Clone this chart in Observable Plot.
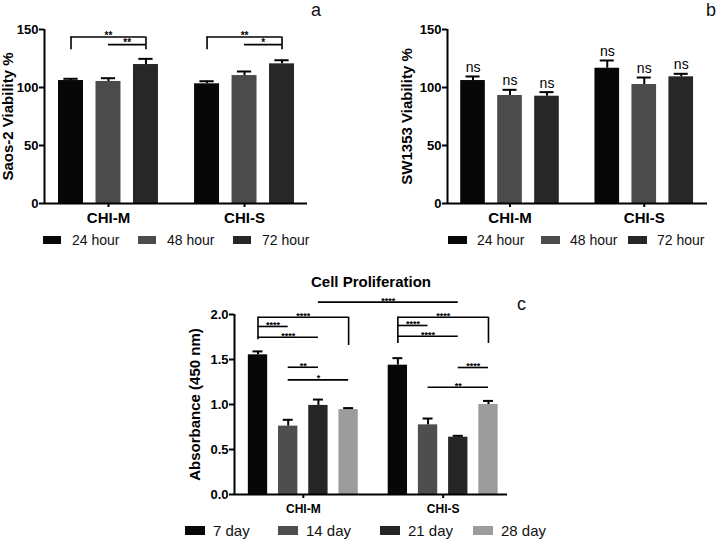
<!DOCTYPE html>
<html><head><meta charset="utf-8">
<script src="https://cdn.jsdelivr.net/npm/d3@7"></script>
<script src="https://cdn.jsdelivr.net/npm/@observablehq/plot@0.6"></script>
<style>
body{margin:0;background:#fff;}
#root{position:relative;width:718px;height:540px;font-family:"Liberation Sans",Arial,sans-serif;overflow:hidden;background:#fff;}
.panel{position:absolute;}
.plabel{position:absolute;font-size:18px;line-height:18px;color:#111;}
.legitem{position:absolute;display:flex;align-items:center;white-space:nowrap;color:#111;}
.sw{display:inline-block;}
</style></head><body><div id="root"></div>
<script>
// ---------- data ----------
const groups = ["CHI-M", "CHI-S"];
const hours = ["24 hour", "48 hour", "72 hour"];
const days = ["7 day", "14 day", "21 day", "28 day"];

// Panel a: Saos-2 viability (%), order: CHI-M 24/48/72, CHI-S 24/48/72
const saosMean = [106, 105.2, 119.8, 103.2, 110.3, 120.4];
const saosSem  = [1.5, 2.8, 4.9, 2.2, 3.5, 3.1];
// Panel b: SW1353 viability (%)
const swMean = [106, 93.1, 92.5, 116.6, 102.6, 109.2];
const swSem  = [3.5, 4.9, 3.5, 6.7, 6.0, 2.6];
const swSig  = ["ns", "ns", "ns", "ns", "ns", "ns"];
// Panel c: absorbance (450 nm), order: CHI-M 7/14/21/28, CHI-S 7/14/21/28
const absMean = [1.552, 0.76, 0.99, 0.944, 1.437, 0.774, 0.637, 1.0];
const absSem  = [0.038, 0.07, 0.065, 0.016, 0.078, 0.07, 0.015, 0.04];

const viabTicks = [0, 50, 100, 150];
const absTicks = [0, 0.5, 1.0, 1.5, 2.0];

// significance lines: [group1, series1, group2, series2, level, label]
const saosSigLines = [
  ["CHI-M", "24 hour", "CHI-M", "72 hour", 143.5, "**"],
  ["CHI-M", "48 hour", "CHI-M", "72 hour", 137, "**"],
  ["CHI-S", "24 hour", "CHI-S", "72 hour", 143.5, "**"],
  ["CHI-S", "48 hour", "CHI-S", "72 hour", 137, "*"]
];
// bracket legs: [group, series, bottom, top]
const saosSigDrops = [
  ["CHI-M", "24 hour", 132.5, 143.5], ["CHI-M", "72 hour", 132.5, 143.5],
  ["CHI-S", "24 hour", 132.5, 143.5], ["CHI-S", "72 hour", 132.5, 143.5]
];
const absSigLines = [
  ["CHI-M", "21 day", "CHI-S", "21 day", 2.137, "****"],
  ["CHI-M", "7 day", "CHI-M", "28 day", 1.97, "****"],
  ["CHI-M", "7 day", "CHI-M", "14 day", 1.867, "****"],
  ["CHI-M", "7 day", "CHI-M", "21 day", 1.748, "****"],
  ["CHI-M", "14 day", "CHI-M", "21 day", 1.414, "**"],
  ["CHI-M", "14 day", "CHI-M", "28 day", 1.274, "*"],
  ["CHI-S", "7 day", "CHI-S", "28 day", 1.97, "****"],
  ["CHI-S", "7 day", "CHI-S", "14 day", 1.878, "****"],
  ["CHI-S", "7 day", "CHI-S", "21 day", 1.759, "****"],
  ["CHI-S", "21 day", "CHI-S", "28 day", 1.411, "****"],
  ["CHI-S", "14 day", "CHI-S", "28 day", 1.192, "**"]
];
const absSigDrops = [
  ["CHI-M", "7 day", 1.72, 1.97], ["CHI-M", "28 day", 1.656, 1.97],
  ["CHI-S", "7 day", 1.678, 1.97], ["CHI-S", "28 day", 1.678, 1.97]
];

// ---------- styles ----------
const hourColors = ["#070707", "#4b4b4b", "#272727"];
const dayColors = ["#070707", "#4e4e4e", "#262626", "#9c9c9c"];
const FONT = "Liberation Sans, Arial, sans-serif";
const GAP = 0.63;

const root = document.getElementById("root");

function build(o) {
  const n = o.series.length;
  const pos = (g, s) => groups.indexOf(g) * (n + GAP) + o.series.indexOf(s);
  const rows = groups.flatMap((g, gi) => o.series.map((s, si) => ({
    g, s, p: pos(g, s), mean: o.mean[gi * n + si], sem: o.sem[gi * n + si],
    tag: o.tags ? o.tags[gi * n + si] : null
  })));
  const centers = groups.map((g, gi) => gi * (n + GAP) + (n - 1) / 2);
  const lines = (o.sigLines || []).map(([g1, s1, g2, s2, y, label]) => ({x1: pos(g1, s1), x2: pos(g2, s2), y, label}));
  const drops = (o.sigDrops || []).map(([g, s, y1, y2]) => ({x: pos(g, s), y1, y2}));
  const top = o.ticks[o.ticks.length - 1];
  const marks = [
    Plot.rectY(rows, {x1: d => d.p - o.hw, x2: d => d.p + o.hw, y1: 0, y2: "mean", fill: "s"}),
    Plot.ruleX(rows, {x: "p", y1: "mean", y2: d => d.mean + d.sem, stroke: "#000", strokeWidth: 2}),
    Plot.ruleY(rows, {y: d => d.mean + d.sem, x1: d => d.p - o.cw, x2: d => d.p + o.cw, stroke: "#000", strokeWidth: 2}),
    Plot.ruleY([o.yDom[0]], {x1: o.xDom[0], x2: o.xDom[1], stroke: "#000", strokeWidth: 2}),
    Plot.ruleX([o.xDom[0]], {y1: o.yDom[0], y2: top, stroke: "#000", strokeWidth: 2}),
    Plot.axisY({ticks: o.ticks, tickFormat: o.tickFmt, tickSize: 5, tickPadding: 1, fontSize: 13, fontWeight: "bold", strokeWidth: 2, label: null}),
    Plot.axisX({ticks: centers, tickFormat: d => groups[Math.round((d - (n - 1) / 2) / (n + GAP))],
      tickSize: 4, tickPadding: o.catPad, fontSize: o.catFont, fontWeight: "bold", strokeWidth: 2, label: null}),
    Plot.text([o.title], {frameAnchor: "left", textAnchor: "middle", lineAnchor: "middle", rotate: -90, dx: o.titleDx, fontSize: 15, fontWeight: "bold"}),
    Plot.ruleY(lines, {y: "y", x1: "x1", x2: "x2", stroke: "#000", strokeWidth: 1.6}),
    Plot.ruleX(drops, {x: "x", y1: "y1", y2: "y2", stroke: "#000", strokeWidth: 1.6}),
    Plot.text(lines, {x: d => (d.x1 + d.x2) / 2, y: "y", text: "label", fontSize: o.starFont, fontWeight: "bold", lineAnchor: "middle", dy: -1.5})
  ];
  if (o.tags) marks.push(Plot.text(rows, {x: "p", y: d => d.mean + d.sem, text: "tag", fontSize: 14, lineAnchor: "middle", dy: -9}));
  if (o.heading) marks.push(Plot.text([o.heading], {frameAnchor: "top", dy: o.headingDy, fontSize: 15, fontWeight: "bold"}));
  const svg = Plot.plot({
    width: o.width, height: o.height,
    marginLeft: o.ml, marginRight: o.mr, marginTop: o.mt, marginBottom: o.mb,
    x: {type: "linear", domain: o.xDom},
    y: {domain: o.yDom},
    color: {domain: o.series, range: o.colors},
    style: {fontFamily: FONT, background: "transparent", overflow: "visible", color: "#000"},
    marks
  });
  const div = document.createElement("div");
  div.className = "panel";
  div.style.left = o.left + "px"; div.style.top = o.top + "px";
  div.appendChild(svg);
  root.appendChild(div);
}

function legend(series, colors, swLefts, textGap, yc, swW, swH, fs) {
  series.forEach((s, i) => {
    const it = document.createElement("div");
    it.className = "legitem";
    it.style.left = swLefts[i] + "px";
    it.style.top = (yc - 10) + "px";
    it.style.height = "20px";
    it.style.fontSize = fs + "px";
    const sw = document.createElement("span");
    sw.className = "sw";
    sw.style.width = swW + "px"; sw.style.height = swH + "px"; sw.style.background = colors[i];
    sw.style.marginRight = textGap + "px";
    const t = document.createElement("span");
    t.textContent = s;
    it.appendChild(sw); it.appendChild(t);
    root.appendChild(it);
  });
}

function panelLabel(txt, left, top) {
  const d = document.createElement("div");
  d.className = "plabel";
  d.textContent = txt;
  d.style.left = left + "px"; d.style.top = top + "px";
  root.appendChild(d);
}

build({left: 0, top: 0, width: 360, height: 225, ml: 44, mr: 53, mt: 29, mb: 22,
  series: hours, colors: hourColors, mean: saosMean, sem: saosSem,
  xDom: [-0.707, 6.31], yDom: [0, 150], ticks: viabTicks, tickFmt: d3.format("d"),
  hw: 0.333, cw: 0.19, catFont: 15, catPad: 5, title: "Saos-2 Viability %", titleDx: -36,
  sigLines: saosSigLines, sigDrops: saosSigDrops, starFont: 10});

build({left: 360, top: 0, width: 358, height: 225, ml: 87, mr: 11, mt: 29, mb: 22,
  series: hours, colors: hourColors, mean: swMean, sem: swSem, tags: swSig,
  xDom: [-0.69, 6.34], yDom: [0, 150], ticks: viabTicks, tickFmt: d3.format("d"),
  hw: 0.333, cw: 0.19, catFont: 15, catPad: 5, title: "SW1353 Viability %", titleDx: -40, starFont: 10});

build({left: 180, top: 260, width: 380, height: 260, ml: 54, mr: 53, mt: 54, mb: 26,
  series: days, colors: dayColors, mean: absMean, sem: absSem,
  xDom: [-0.778, 8.26], yDom: [0, 2], ticks: absTicks, tickFmt: d3.format(".1f"),
  hw: 0.32, cw: 0.165, catFont: 12, catPad: 6, title: "Absorbance (450 nm)", titleDx: -39,
  sigLines: absSigLines, sigDrops: absSigDrops, starFont: 9,
  heading: "Cell Proliferation", headingDy: -38});

legend(hours, hourColors, [43, 138, 233], 11, 240, 18, 8, 14);
legend(hours, hourColors, [448, 541, 628], 10, 240, 19, 8, 14);
legend(days, dayColors, [185, 278, 380, 473], 8, 530, 20, 9, 15);

panelLabel("a", 311, 1);
panelLabel("b", 706, 1);
panelLabel("c", 517, 295);
</script></body></html>
